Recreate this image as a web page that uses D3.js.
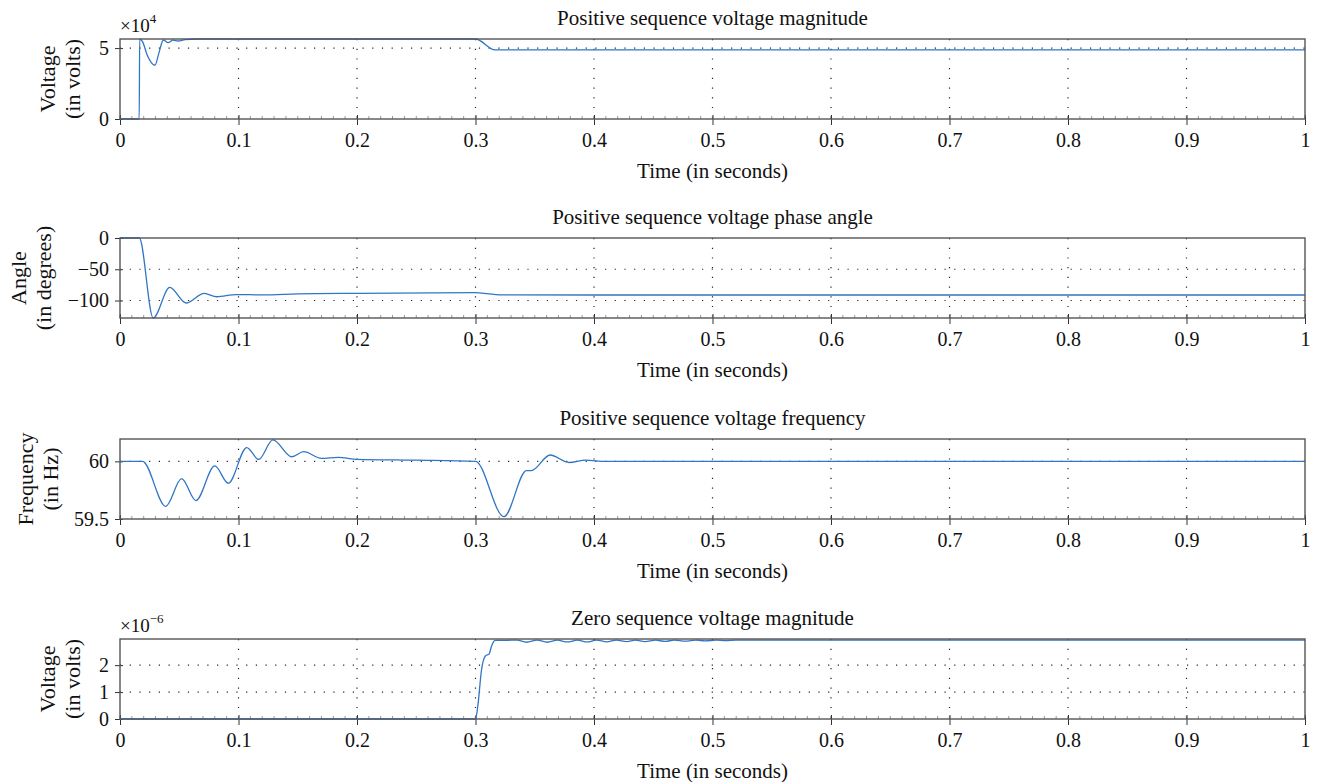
<!DOCTYPE html>
<html>
<head>
<meta charset="utf-8">
<script src="https://cdn.jsdelivr.net/npm/d3@7"></script>
<style>
  body { margin: 0; background: #fff; }
  text { font-family: "Liberation Serif", "DejaVu Serif", serif; fill: #111; }
</style>
</head>
<body>
<div id="chart"></div>
<script>
// time ticks shared by all four panels
var xTicks = [0, 0.1, 0.2, 0.3, 0.4, 0.5, 0.6, 0.7, 0.8, 0.9, 1]

// panel 1: positive sequence voltage magnitude (x 1e4 volts)
var magT = [0, 0.0162, 0.0166, 0.019, 0.023, 0.0295, 0.033, 0.0366, 0.0405, 0.0447, 0.049, 0.055, 0.065, 0.3, 0.3165, 1]
var magV = [0, 0, 5.64, 5.45, 4.5, 3.79, 4.7, 5.57, 5.38, 5.56, 5.5, 5.6, 5.64, 5.64, 4.88, 4.88]
var magTicks = [0, 5]

// panel 2: phase angle (degrees)
var angT = [0, 0.0163, 0.028, 0.042, 0.0557, 0.071, 0.0816, 0.098, 0.12, 0.15, 0.2, 0.3, 0.31, 0.32, 0.4, 1]
var angV = [0, 0, -128, -79, -104, -88.6, -94, -90.5, -91, -89.5, -88.5, -87.5, -89, -91, -91.2, -91.2]
var angTicks = [-100, -50, 0]

// panel 3: frequency (Hz)
var frqT = [0, 0.019, 0.0386, 0.052, 0.064, 0.08, 0.0914, 0.107, 0.117, 0.129, 0.145, 0.155, 0.17, 0.184, 0.2, 0.25, 0.3,
            0.324, 0.343, 0.347, 0.363, 0.379, 0.393, 0.41, 1]
var frqV = [60, 60, 59.61, 59.85, 59.66, 59.96, 59.81, 60.12, 60.017, 60.186, 60.04, 60.084, 60.026, 60.035, 60.017, 60.01, 60,
            59.52, 59.92, 59.92, 60.055, 59.99, 60.01, 60, 60]
var frqTicks = [59.5, 60]

// panel 4: zero sequence voltage magnitude (x 1e-6 volts)
var zerT = [0, 0.3, 0.302, 0.305, 0.3085, 0.3115, 0.3135, 0.3165, 0.326, 0.335, 0.3431, 0.352, 0.3606, 0.369, 0.3775, 0.386,
            0.3943, 0.402, 0.4107, 0.419, 0.4276, 0.435, 0.443, 0.452, 0.46, 0.468, 0.477, 0.486, 0.494, 0.503, 0.511, 0.52, 1]
var zerV = [0, 0, 0.5, 1.8, 2.35, 2.41, 2.7, 2.92, 2.92, 2.93, 2.85, 2.93, 2.85, 2.93, 2.86, 2.93,
            2.86, 2.93, 2.865, 2.93, 2.87, 2.93, 2.875, 2.93, 2.88, 2.93, 2.89, 2.93, 2.9, 2.93, 2.91, 2.93, 2.93]
var zerTicks = [0, 1, 2]

var panels = [
  {title: "Positive sequence voltage magnitude", t: magT, v: magV, ticks: magTicks, dom: [0, 5.64],
   top: 39, lab: ["Voltage", "(in volts)"], labX: 47, exp: "4"},
  {title: "Positive sequence voltage phase angle", t: angT, v: angV, ticks: angTicks, dom: [-128, 0],
   top: 238, lab: ["Angle", "(in degrees)"], labX: 18},
  {title: "Positive sequence voltage frequency", t: frqT, v: frqV, ticks: frqTicks, dom: [59.5, 60.194],
   top: 439, lab: ["Frequency", "(in Hz)"], labX: 25},
  {title: "Zero sequence voltage magnitude", t: zerT, v: zerV, ticks: zerTicks, dom: [0, 2.97],
   top: 639, lab: ["Voltage", "(in volts)"], labX: 47, exp: "\u22126"}
]

var W = 1317, H = 782
var left = 120, right = 1305, ph = 80

var svg = d3.select("#chart").append("svg")
  .attr("width", W)
  .attr("height", H)

var x = d3.scaleLinear().domain([0, 1]).range([left, right])
var minor = d3.range(0, 1.0001, 0.01)

panels.forEach(function(p) {
  var y = d3.scaleLinear().domain(p.dom).range([p.top + ph, p.top])
  var g = svg.append("g")

  // grid lines
  g.selectAll(".vg").data(xTicks.slice(1, -1)).enter().append("line")
    .attr("x1", function(d) { return x(d) }).attr("x2", function(d) { return x(d) })
    .attr("y1", p.top).attr("y2", p.top + ph)
    .attr("stroke", "#222").attr("stroke-width", 1.2).attr("stroke-dasharray", "1.2,8.5")
  g.selectAll(".hg").data(p.ticks.filter(function(d) { return d > p.dom[0] && d < p.dom[1] })).enter().append("line")
    .attr("x1", left).attr("x2", right)
    .attr("y1", function(d) { return y(d) }).attr("y2", function(d) { return y(d) })
    .attr("stroke", "#222").attr("stroke-width", 1.2).attr("stroke-dasharray", "1.2,8.5")

  // minor ticks
  g.selectAll(".mt").data(minor).enter().append("line")
    .attr("x1", function(d) { return x(d) }).attr("x2", function(d) { return x(d) })
    .attr("y1", p.top + ph).attr("y2", p.top + ph - 3)
    .attr("stroke", "#999").attr("stroke-width", 1)

  // x axis
  var xa = g.append("g")
    .attr("transform", "translate(0," + (p.top + ph) + ")")
    .call(d3.axisBottom(x).tickValues(xTicks).tickFormat(d3.format("~g")).tickSizeInner(6).tickSizeOuter(0).tickPadding(8))
  xa.select(".domain").remove()
  xa.selectAll("line").attr("stroke", "#333").attr("y1", -4)
  xa.selectAll("text").style("font-size", "20px").attr("fill", "#111")

  // y axis
  var ya = g.append("g")
    .attr("transform", "translate(" + left + ",0)")
    .call(d3.axisLeft(y).tickValues(p.ticks).tickFormat(function(d) { return d < 0 ? "\u2212" + Math.abs(d) : d }).tickSizeInner(5).tickSizeOuter(0).tickPadding(6))
  ya.select(".domain").remove()
  ya.selectAll("line").attr("stroke", "#333").attr("x1", 3)
  ya.selectAll("text").style("font-size", "20px").attr("fill", "#111")

  // curve
  var pts = p.t.map(function(t, i) { return [t, p.v[i]] })
  g.append("path")
    .datum(pts)
    .attr("fill", "none")
    .attr("stroke", "#3176c4")
    .attr("stroke-width", 1.3)
    .attr("d", d3.line().curve(d3.curveMonotoneX)
      .x(function(d) { return x(d[0]) })
      .y(function(d) { return y(d[1]) }))

  // box
  g.append("rect")
    .attr("x", left).attr("y", p.top)
    .attr("width", right - left).attr("height", ph)
    .attr("fill", "none").attr("stroke", "#555").attr("stroke-width", 1.4)

  // title
  g.append("text")
    .attr("x", (left + right) / 2).attr("y", p.top - 14)
    .attr("text-anchor", "middle")
    .style("font-size", "21px")
    .text(p.title)

  // x label
  g.append("text")
    .attr("x", (left + right) / 2).attr("y", p.top + ph + 59)
    .attr("text-anchor", "middle")
    .style("font-size", "21px")
    .text("Time (in seconds)")

  // y label (two lines)
  p.lab.forEach(function(s, i) {
    g.append("text")
      .attr("transform", "translate(" + (p.labX + i * 25) + "," + (p.top + ph / 2) + ") rotate(-90)")
      .attr("text-anchor", "middle")
      .attr("dominant-baseline", "central")
      .style("font-size", "22px")
      .text(s)
  })

  // exponent
  if (p.exp) {
    var e = g.append("text")
      .attr("x", left).attr("y", p.top - 7)
      .style("font-size", "19px")
    e.append("tspan").text("\u00d710")
    e.append("tspan").attr("dy", -9).style("font-size", "13px").text(p.exp)
  }
})
</script>
</body>
</html>
